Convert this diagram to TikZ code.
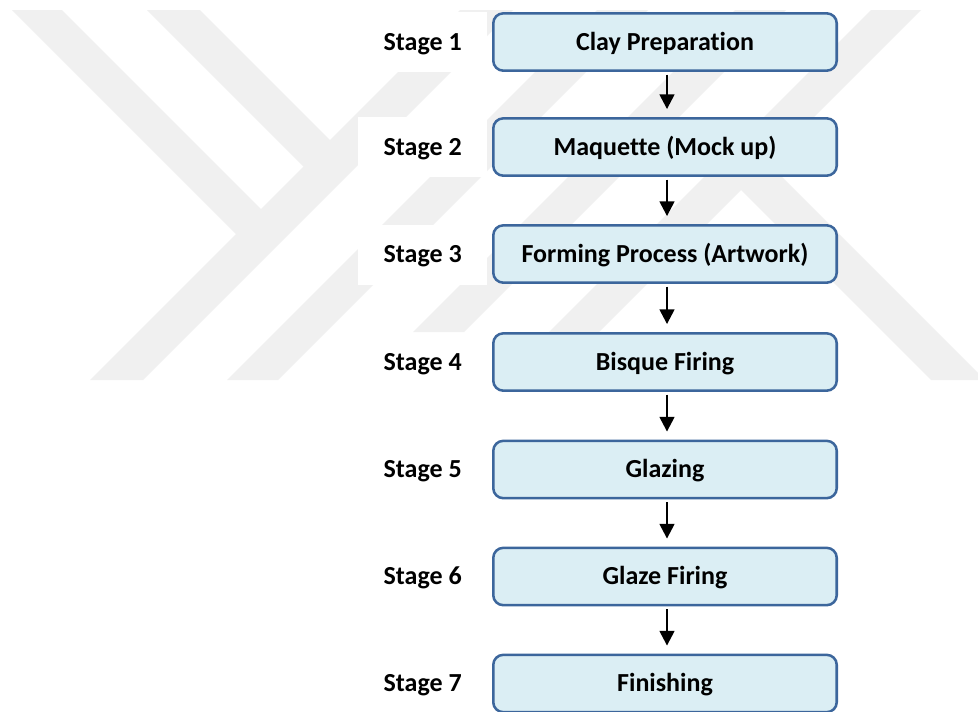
\documentclass[tikz,border=0pt]{standalone}
\usepackage{fontspec}
\setmainfont{Carlito}[Ligatures=NoCommon]
\usetikzlibrary{arrows.meta}
\definecolor{wm}{RGB}{240,240,240}
\definecolor{boxfill}{RGB}{219,238,244}
\definecolor{boxline}{RGB}{60,102,156}
\begin{document}
\begin{tikzpicture}[x=0.75pt,y=-0.75pt,
  stagebox/.style={draw=boxline, fill=boxfill, line width=1.9pt, rounded corners=7.5pt,
    minimum width=257.6pt, minimum height=43pt, inner sep=0pt,
    text height=12.6pt, text depth=0pt,
    font=\fontsize{19.5}{23}\selectfont\bfseries},
  stagelabel/.style={anchor=east, inner sep=0pt, text height=12.6pt, text depth=0pt,
    font=\fontsize{19.5}{23}\selectfont\bfseries},
  arr/.style={line width=1.8pt, -{Triangle[length=11pt,width=11pt]}},
  wmark/.style={fill=wm},
  mask/.style={fill=white}]
\useasboundingbox (0,0) rectangle (978,711);
\fill[white] (0,0) rectangle (978,711);
% watermark
\fill[wmark] (12,10) -- (62,10) -- (266,214) -- (241,239) -- cycle;
\fill[wmark] (147,10) -- (200,10) -- (335,145) -- (308.5,171.5) -- cycle;
\fill[wmark] (90,380) -- (143,380) -- (513,10) -- (460,10) -- cycle;
\fill[wmark] (227,380) -- (278,380) -- (648,10) -- (597,10) -- cycle;
\fill[wmark] (413,332) -- (464,332) -- (786,10) -- (735,10) -- cycle;
\fill[wmark] (501,380) -- (551,380) -- (921,10) -- (871,10) -- cycle;
\fill[wmark] (735.5,184.5) -- (762.5,157.5) -- (985,380) -- (931,380) -- cycle;
% white masks behind labels
\fill[mask] (358,12) rectangle (487,72);
\fill[mask] (358,117) rectangle (487,177);
\fill[mask] (358,225) rectangle (487,285);
% boxes
\node[stagebox] (b1) at (665,42) {Clay Preparation};
\node[stagebox] (b2) at (665,147) {Maquette (Mock up)};
\node[stagebox] (b3) at (665,254) {Forming Process (Artwork)};
\node[stagebox] (b4) at (665,362) {Bisque Firing};
\node[stagebox] (b5) at (665,469.5) {Glazing};
\node[stagebox] (b6) at (665,576.5) {Glaze Firing};
\node[stagebox] (b7) at (665,683.5) {Finishing};
% labels
\node[stagelabel] (s1) at (462,42) {Stage 1};
\node[stagelabel] (s2) at (462,147) {Stage 2};
\node[stagelabel] (s3) at (462,254) {Stage 3};
\node[stagelabel] (s4) at (462,362) {Stage 4};
\node[stagelabel] (s5) at (462,469.5) {Stage 5};
\node[stagelabel] (s6) at (462,576.5) {Stage 6};
\node[stagelabel] (s7) at (462,683.5) {Stage 7};
% arrows
\foreach \a/\b in {b1/b2,b2/b3,b3/b4,b4/b5,b5/b6,b6/b7}
  \draw[arr] ([xshift=1.5pt,yshift=-2pt]\a.south) -- ([xshift=1.5pt,yshift=6pt]\b.north);
\end{tikzpicture}
\end{document}
